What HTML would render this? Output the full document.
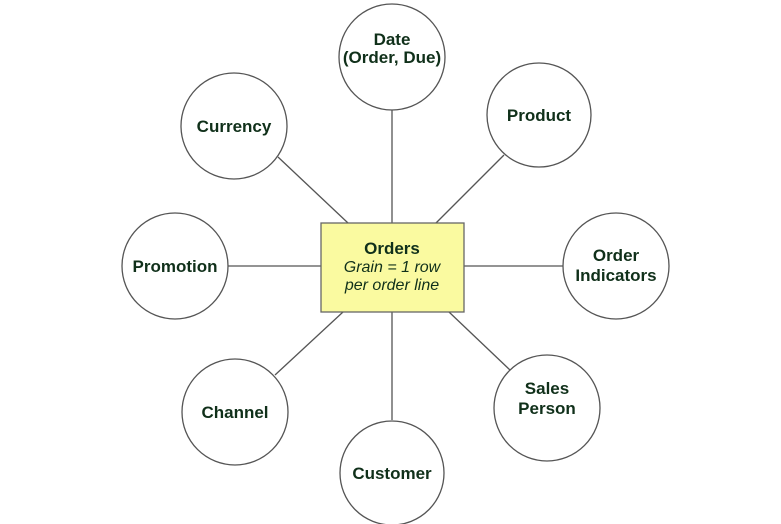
<!DOCTYPE html>
<html><head><style>
html,body{margin:0;padding:0;background:#fff;}
svg{display:block;}
text{font-family:"Liberation Sans",Arial,sans-serif;fill:#10301a;}
.b{font-weight:bold;font-size:17px;}
</style></head><body>
<svg width="781" height="524" viewBox="0 0 781 524">
<g stroke="#555" stroke-width="1.3">
<line x1="392" y1="110" x2="392" y2="223"/>
<line x1="392" y1="312" x2="392" y2="420"/>
<line x1="228" y1="266" x2="321" y2="266"/>
<line x1="464" y1="266" x2="563" y2="266"/>
<line x1="278" y1="157" x2="348" y2="223"/>
<line x1="504" y1="155" x2="436" y2="223"/>
<line x1="275" y1="375" x2="343" y2="312"/>
<line x1="510" y1="370" x2="449" y2="312"/>
</g>
<g fill="#fff" stroke="#555" stroke-width="1.3">
<circle cx="392" cy="57" r="53"/>
<circle cx="234" cy="126" r="53"/>
<circle cx="539" cy="115" r="52"/>
<circle cx="175" cy="266" r="53"/>
<circle cx="616" cy="266" r="53"/>
<circle cx="235" cy="412" r="53"/>
<circle cx="547" cy="408" r="53"/>
<circle cx="392" cy="473" r="52"/>
</g>
<rect x="321" y="223" width="143" height="89" fill="#fafaa0" stroke="#666" stroke-width="1.3"/>
<g text-anchor="middle">
<text class="b" x="392" y="45">Date</text>
<text class="b" x="392" y="63" font-size="16">(Order, Due)</text>
<text class="b" x="234" y="132">Currency</text>
<text class="b" x="539" y="121">Product</text>
<text class="b" x="175" y="272">Promotion</text>
<text class="b" x="616" y="261">Order</text>
<text class="b" x="616" y="281">Indicators</text>
<text class="b" x="235" y="418">Channel</text>
<text class="b" x="547" y="394">Sales</text>
<text class="b" x="547" y="414">Person</text>
<text class="b" x="392" y="479">Customer</text>
<text class="b" x="392" y="254">Orders</text>
<text x="392" y="272" font-size="16" font-style="italic">Grain = 1 row</text>
<text x="392" y="290" font-size="16" font-style="italic">per order line</text>
</g>
</svg>
</body></html>
